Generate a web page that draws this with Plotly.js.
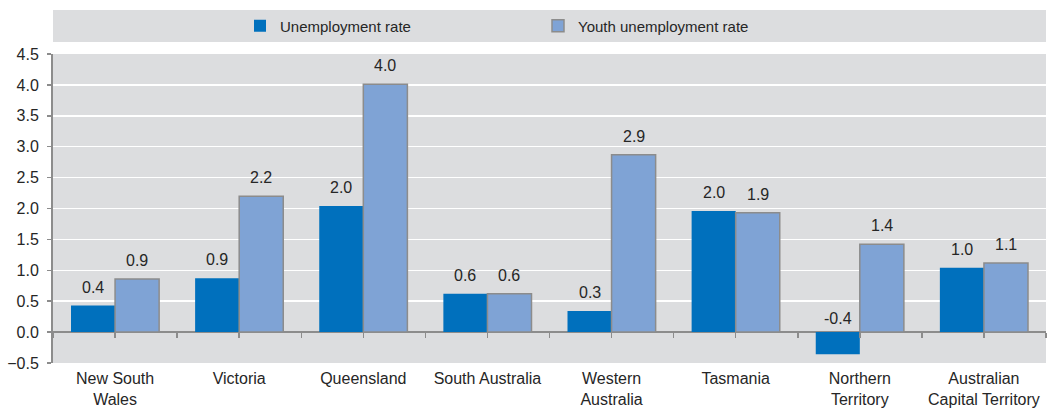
<!DOCTYPE html>
<html>
<head>
<meta charset="utf-8">
<script src="https://cdn.plot.ly/plotly-3.0.1.min.js"></script>
<style>html,body{margin:0;padding:0;background:#fff;}#chart{width:1047px;height:409px;}</style>
</head>
<body>
<div id="chart"></div>
<script>
// ---- data ----
const categories = ["New South<br>Wales", "Victoria", "Queensland", "South Australia", "Western<br>Australia", "Tasmania", "Northern<br>Territory", "Australian<br>Capital Territory"];
const unemploymentRate = [0.43, 0.87, 2.04, 0.62, 0.34, 1.96, -0.36, 1.04];
const youthUnemploymentRate = [0.86, 2.20, 4.01, 0.62, 2.87, 1.93, 1.42, 1.12];
const seriesNames = ["Unemployment rate", "Youth unemployment rate"];
const yTickVals = [-0.5, 0, 0.5, 1, 1.5, 2, 2.5, 3, 3.5, 4, 4.5];

// ---- styling ----
const W = 1047, H = 409;
const margin = {l: 53, r: 1, t: 54, b: 46};
const yMin = -0.5, yMax = 4.5;
const bargap = 0.29;
const darkBlue = "#0070BD", lightBlue = "#7FA3D5", outline = "#8C8C8C";
const plotBg = "#DCDDDF", txt = "#262626";
const FONT = "Liberation Sans, Arial, sans-serif";

const plotW = W - margin.l - margin.r;
const plotH = H - margin.t - margin.b;
const catW = plotW / categories.length;
const barW = catW * (1 - bargap) / 2;
const zeroPos = (0 - yMin) / (yMax - yMin);

const traces = [
  {type: "bar", name: seriesNames[0], x: categories, y: unemploymentRate,
   marker: {color: darkBlue, line: {width: 0}}, hoverinfo: "skip"},
  {type: "bar", name: seriesNames[1], x: categories, y: youthUnemploymentRate,
   marker: {color: lightBlue, line: {color: outline, width: 1.5}}, hoverinfo: "skip"},
  {type: "scatter", mode: "markers", x: categories.map((_, i) => i), y: categories.map(() => 0),
   xaxis: "x2", marker: {opacity: 0}, showlegend: false, hoverinfo: "skip"}
];

const annotations = [];
[unemploymentRate, youthUnemploymentRate].forEach((arr, s) => {
  arr.forEach((v, i) => {
    annotations.push({
      x: categories[i], y: Math.max(v, 0), xref: "x", yref: "y",
      text: v.toFixed(1), showarrow: false, yanchor: "bottom", xanchor: "center",
      xshift: (s === 0 ? -1 : 1) * barW / 2, yshift: v < 0 ? 3 : 8,
      font: {family: FONT, size: 16, color: txt}
    });
  });
});

const layout = {
  width: W, height: H, margin: margin,
  paper_bgcolor: "#ffffff", plot_bgcolor: plotBg,
  font: {family: FONT, size: 16, color: txt},
  barmode: "group", bargap: bargap, bargroupgap: 0,
  showlegend: true,
  legend: {orientation: "h", x: (263 - 23 - margin.l) / plotW, xanchor: "left", y: (plotH + 28) / plotH, yanchor: "middle",
           bgcolor: "rgba(0,0,0,0)", font: {family: FONT, size: 15, color: txt},
           entrywidth: 253, itemwidth: 30, traceorder: "normal"},
  xaxis: {type: "category", categoryarray: categories, categoryorder: "array",
          showgrid: false, zeroline: false, showline: false, ticks: "", ticklabelstandoff: 4,
          tickfont: {family: FONT, size: 16, color: txt}, fixedrange: true},
  xaxis2: {overlaying: "x", anchor: "free", position: zeroPos, range: [-0.5, categories.length - 0.5],
           tickmode: "linear", tick0: -0.5, dtick: 0.5, ticks: "outside", ticklen: 5, tickwidth: 1.5,
           tickcolor: outline, showticklabels: false, showgrid: false, zeroline: false, showline: false},
  yaxis: {range: [yMin, yMax], tickmode: "array", tickvals: yTickVals, tickformat: ".1f",
          showgrid: true, gridcolor: "#ffffff", gridwidth: 1.5,
          zeroline: true, zerolinecolor: outline, zerolinewidth: 2,
          showline: true, linecolor: outline, linewidth: 2,
          ticks: "outside", ticklen: 4, tickwidth: 1.5, tickcolor: outline, ticklabelstandoff: 5,
          tickfont: {family: FONT, size: 16, color: txt}, fixedrange: true},
  shapes: [{type: "rect", xref: "paper", yref: "paper", x0: 0, x1: 1,
            y0: (plotH + 12) / plotH, y1: (plotH + 44) / plotH,
            fillcolor: plotBg, line: {width: 0}, layer: "below"}],
  annotations: annotations
};

Plotly.newPlot("chart", traces, layout, {displayModeBar: false, staticPlot: true});
</script>
</body>
</html>
